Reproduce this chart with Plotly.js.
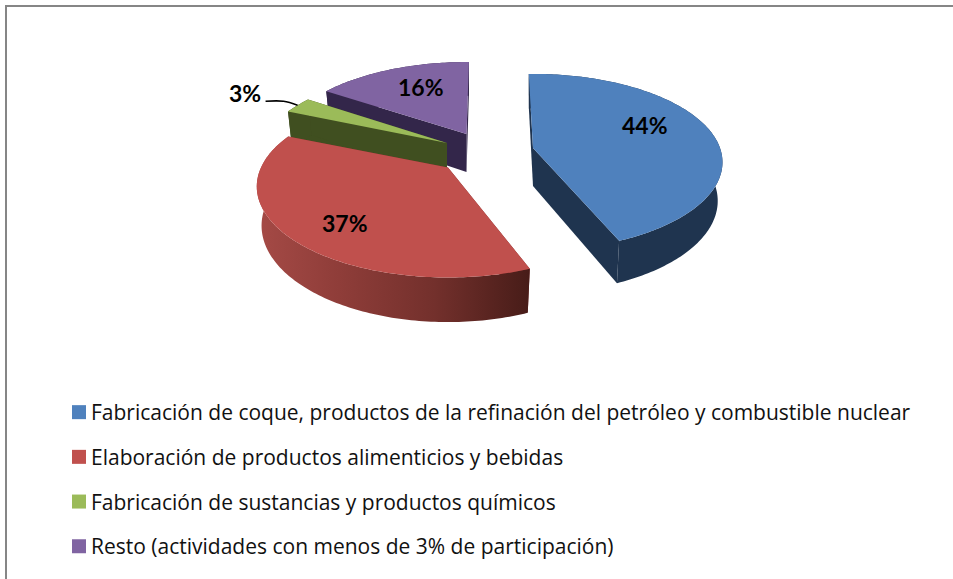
<!DOCTYPE html>
<html><head><meta charset="utf-8">
<script src="https://cdn.plot.ly/plotly-3.0.1.min.js"></script>
<style>html,body{margin:0;padding:0;background:#fff}#c{width:953px;height:579px}</style>
</head><body><div id="c"></div>
<script>
// ---- data ----
const categories = [
  "Fabricación de coque, productos de la refinación del petróleo y combustible nuclear",
  "Elaboración de productos alimenticios y bebidas",
  "Fabricación de sustancias y productos químicos",
  "Resto (actividades con menos de 3% de participación)"
];
const shares = [44, 37, 3, 16];
const topColors = ["#4f81bd", "#c0504d", "#9bbb59", "#8064a2"];
const wallColors = ["#1f344f", "#7a2e2b", "#404f20", "#33264a"];

// ---- projection of the tilted, exploded pie ----
const radiusX = 187, bottomShrink = 0.975, wallBase = 13, wallScale = 25;
const radiusY = [86, 87, 87, 87];
const persp = [0.161, 0.209, 0.209, 0.209];
const angleShift = [-1.5, 1, 1.5, 0.9];
const apexX = [533, 448, 447, 466.5];
const apexY = [148, 167.5, 143, 134];
const total = shares.reduce((a, b) => a + b, 0);
function project(i, deg, lower) {
  const r = deg * Math.PI / 180, u = Math.sin(r), v = -Math.cos(r), k = 1 / (1 - persp[i] * v);
  return [apexX[i] + radiusX * u * k * (lower ? bottomShrink : 1),
          apexY[i] + radiusY[i] * v * k + (lower ? wallBase + wallScale * k : 0)];
}
function arc(i, a0, a1, lower) {
  const pts = [], n = Math.max(2, Math.ceil(Math.abs(a1 - a0)));
  for (let j = 0; j <= n; j++) pts.push(project(i, a0 + (a1 - a0) * j / n, lower));
  return pts;
}
function poly(pts, color, grad) {
  const t = { type: "scatter", mode: "none", fill: "toself", fillcolor: color, showlegend: false, hoverinfo: "skip",
    x: pts.map(p => p[0]), y: pts.map(p => p[1]) };
  if (grad) t.fillgradient = grad;
  return t;
}
const angles = []; let acc = 0;
shares.forEach((s, i) => { angles.push([acc + angleShift[i], acc + 360 * s / total + angleShift[i]]); acc += 360 * s / total; });

const traces = [];
[3, 2, 1, 0].forEach(i => {
  const [a0, a1] = angles[i];
  const apexTop = [apexX[i], apexY[i]], apexBot = [apexX[i], apexY[i] + wallBase + wallScale];
  const grad = i === 1 ? { type: "horizontal", start: 257, stop: 530,
    colorscale: [[0, "#a54a46"], [0.3, "#8f3d39"], [0.65, "#73302c"], [1, "#471c18"]] } : null;
  traces.push(poly([apexTop, project(i, a0), project(i, a0, true), apexBot, apexTop], wallColors[i]));
  traces.push(poly([apexTop, project(i, a1), project(i, a1, true), apexBot, apexTop], wallColors[i]));
  traces.push(poly(arc(i, a0, a1, false).concat(arc(i, a1, a0, true)), wallColors[i], grad));
  traces.push(poly([apexTop].concat(arc(i, a0, a1, false), [apexTop]), topColors[i]));
});

// leader line of the small slice
const greenMid = project(2, (angles[2][0] + angles[2][1]) / 2);
traces.push({ type: "scatter", mode: "lines", showlegend: false, hoverinfo: "skip",
  x: [greenMid[0] - 32, greenMid[0] - 14, greenMid[0]],
  y: [greenMid[1] - 4, greenMid[1] - 4, greenMid[1]],
  line: { color: "#000", width: 1.6, shape: "spline" } });

// legend entries
categories.forEach((c, i) => traces.push({ type: "scatter", mode: "markers", name: c, x: [null], y: [null],
  legendgroup: "g" + i, marker: { symbol: "square", size: 14, color: topColors[i] } }));

// value labels
const labelFrac = 0.68;
const labelShiftX = [-8, 4, 0, 5], labelShiftY = [11, -7, 0, 3];
const annotations = shares.map((s, i) => {
  const mid = (angles[i][0] + angles[i][1]) / 2;
  const p = project(i, mid), x = apexX[i] + (p[0] - apexX[i]) * labelFrac, y = apexY[i] + (p[1] - apexY[i]) * labelFrac;
  const isSmall = i === 2;
  return { x: isSmall ? greenMid[0] - 53 : x, y: isSmall ? greenMid[1] - 12 : y,
    xshift: labelShiftX[i], yshift: labelShiftY[i], text: "<b>" + s + "%</b>", showarrow: false,
    font: { family: "Lato, Carlito, sans-serif", size: 23, color: "#000" } };
});

const layout = {
  width: 953, height: 579, margin: { l: 0, r: 0, t: 0, b: 0 },
  paper_bgcolor: "#fff", plot_bgcolor: "#fff", hovermode: false, dragmode: false,
  xaxis: { range: [0, 953], visible: false, fixedrange: true },
  yaxis: { range: [579, 0], visible: false, fixedrange: true },
  legend: { x: 51 / 953, xanchor: "left", y: 1 - 392 / 579, yanchor: "top", tracegroupgap: 14.4,
    bgcolor: "rgba(0,0,0,0)", font: { family: "'Open Sans', sans-serif", size: 21, color: "#111" } },
  shapes: [{ type: "path", xref: "x", yref: "y", path: "M 6 579 L 6 6 L 953 6", line: { color: "#868686", width: 2 } }],
  annotations: annotations
};
Plotly.newPlot("c", traces, layout, { displayModeBar: false, staticPlot: true }).then(() => {
  document.querySelectorAll(".legend .legendpoints path.scatterpts").forEach(p => {
    p.setAttribute("transform", "translate(28,0)");
  });
});
</script></body></html>
